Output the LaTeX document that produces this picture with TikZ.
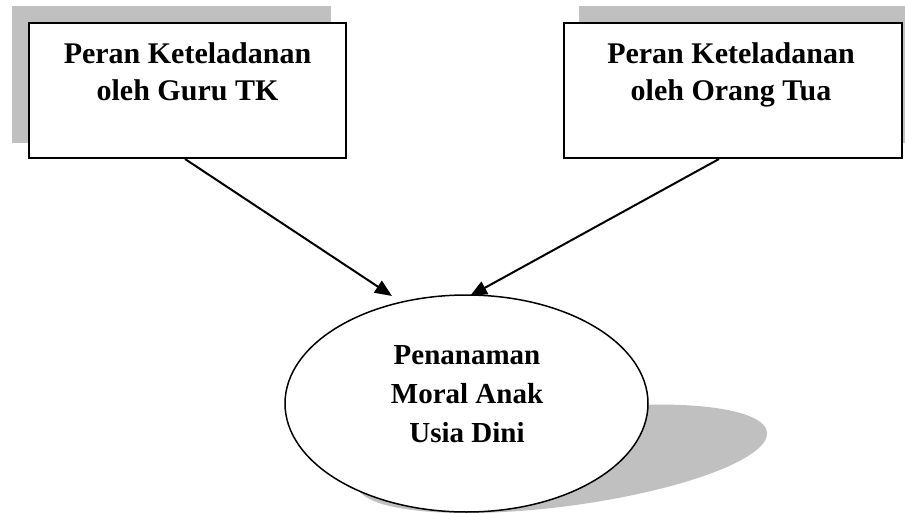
\documentclass[tikz,border=0pt]{standalone}
\usepackage{fontspec}
\setmainfont{Liberation Serif}
\usetikzlibrary{arrows.meta,shapes.geometric}
\definecolor{shadowgray}{RGB}{192,192,192}
\tikzset{
  boxshadow/.style={fill=shadowgray,draw=none},
  factorbox/.style={draw=black,line width=2pt,fill=white,rectangle,inner sep=0pt,minimum width=#1,minimum height=135pt},
  boxtext/.style={inner sep=0pt,align=center,anchor=north,font=\fontsize{30}{37}\selectfont\bfseries},
  outcome/.style={draw=black,line width=1.5pt,fill=white,ellipse,inner sep=0pt,minimum width=363pt,minimum height=217pt},
  outtext/.style={inner sep=0pt,align=center,anchor=north,font=\fontsize{29}{39}\selectfont\bfseries},
  arr/.style={line width=2pt,-{Triangle[length=17pt,width=14pt]}}
}
\begin{document}
\begin{tikzpicture}[x=1pt,y=-1pt]
\useasboundingbox (0,0) rectangle (905,513);
\fill[white] (0,0) rectangle (905,513);
\clip (0,0) rectangle (905,513);
% box shadows
\fill[boxshadow] (12,6) rectangle (331,143);
\fill[boxshadow] (579,6) rectangle (917,143);
% boxes
\node[factorbox=317pt] (guru) at (187.5,90.5) {};
\node[boxtext] (gurutext) at (187.5,42.7) {Peran Keteladanan\\oleh Guru TK};
\node[factorbox=338pt] (ortu) at (733,90.5) {};
\node[boxtext] (ortutext) at (731,42.7) {Peran Keteladanan\\oleh Orang Tua};
% ellipse shadow
\begin{scope}[cm={1,0,0.88,0.5,(466.5,513)}]
  \fill[shadowgray] (0,-108.5) ellipse [x radius=181.5pt, y radius=108.5pt];
\end{scope}
% ellipse
\node[outcome] (moral) at (466.5,403.5) {};
\node[outtext] (moraltext) at (467,345.8) {Penanaman\\Moral Anak\\Usia Dini};
% arrows
\coordinate (tipL) at (392,296);
\coordinate (tipR) at (470,296);
\draw[arr] (guru.south -| 185,0) -- (tipL);
\draw[arr] (ortu.south -| 719,0) -- (tipR);
\end{tikzpicture}
\end{document}
